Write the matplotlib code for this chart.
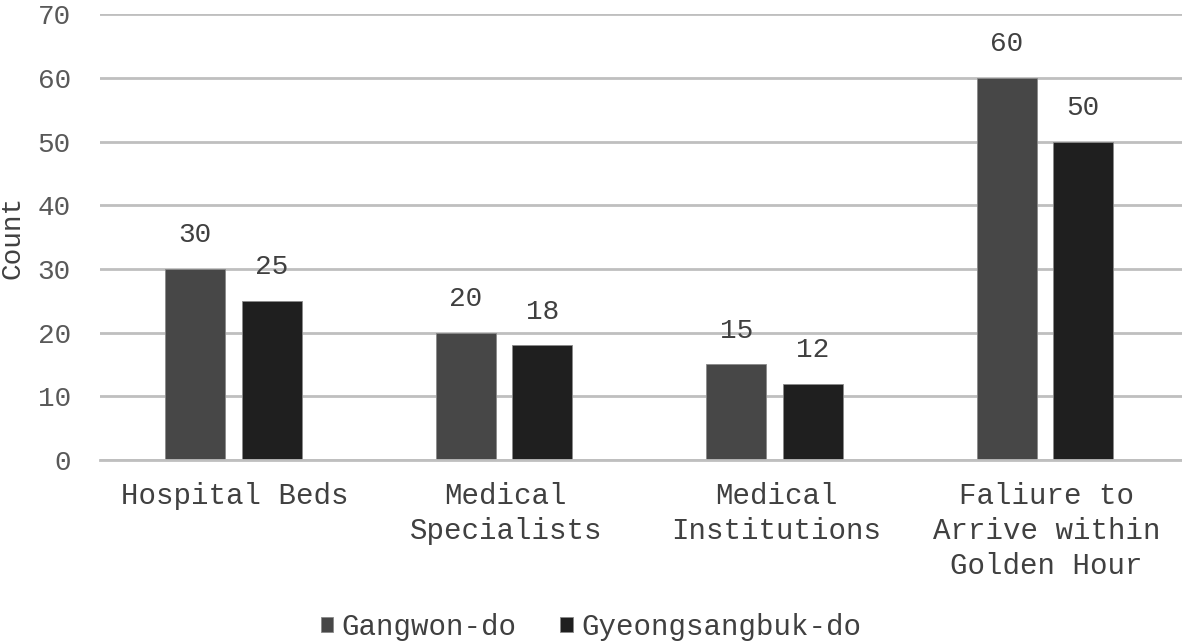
import numpy as np
import matplotlib
matplotlib.use("Agg")
import matplotlib.pyplot as plt

categories = ["Hospital Beds", "Medical\nSpecialists", "Medical\nInstitutions",
              "Faliure to\nArrive within\nGolden Hour"]
gangwon = [30, 20, 15, 60]
gyeongbuk = [25, 18, 12, 50]
series_names = ["Gangwon-do", "Gyeongsangbuk-do"]
yticks = [0, 10, 20, 30, 40, 50, 60, 70]

plt.rcParams["font.family"] = ["Liberation Mono", "DejaVu Sans Mono"]
txt = "#404040"

fig = plt.figure(figsize=(11.82, 6.42), dpi=100)
ax = fig.add_axes([0.0846, 0.2835, 0.9154, 0.6945])

x = np.arange(len(categories))
w = 0.222
b1 = ax.bar(x - 0.148, gangwon, w, color="#474747", edgecolor="#8a8a8a",
            linewidth=0.6, label=series_names[0], zorder=2)
b2 = ax.bar(x + 0.135, gyeongbuk, w, color="#1f1f1f", edgecolor="#8a8a8a",
            linewidth=0.6, label=series_names[1], zorder=2)

for bars, vals in [(b1, gangwon), (b2, gyeongbuk)]:
    for r, v in zip(bars, vals):
        ax.annotate(str(v), (r.get_x() + r.get_width() / 2, v),
                    xytext=(0, 15), textcoords="offset points",
                    ha="center", va="bottom", fontsize=20, color=txt)

ax.set_xlim(-0.5, 3.5)
ax.set_ylim(0, 70)
ax.set_yticks(yticks)
ax.set_xticks(x)
ax.set_xticklabels(categories, linespacing=1.32)
ax.tick_params(axis="y", length=0, pad=21, labelsize=20, labelcolor="#595959")
ax.tick_params(axis="x", length=0, pad=16, labelsize=21, labelcolor=txt)
ax.yaxis.grid(True, color="#bfbfbf", linewidth=2)
ax.set_axisbelow(True)
for s in ["top", "right", "left"]:
    ax.spines[s].set_visible(False)
ax.spines["bottom"].set_color("#bfbfbf")
ax.spines["bottom"].set_linewidth(2)

ax.set_ylabel("Count", fontsize=20, color=txt)
ax.yaxis.set_label_coords(-0.069, 0.5)

fig.legend(loc="center", bbox_to_anchor=(0.5, 0.024), ncol=2, frameon=False,
           fontsize=21, handlelength=0.42, handleheight=0.42, handletextpad=0.3,
           columnspacing=1.5, labelcolor=txt)

fig.savefig("out.png", dpi=100)
